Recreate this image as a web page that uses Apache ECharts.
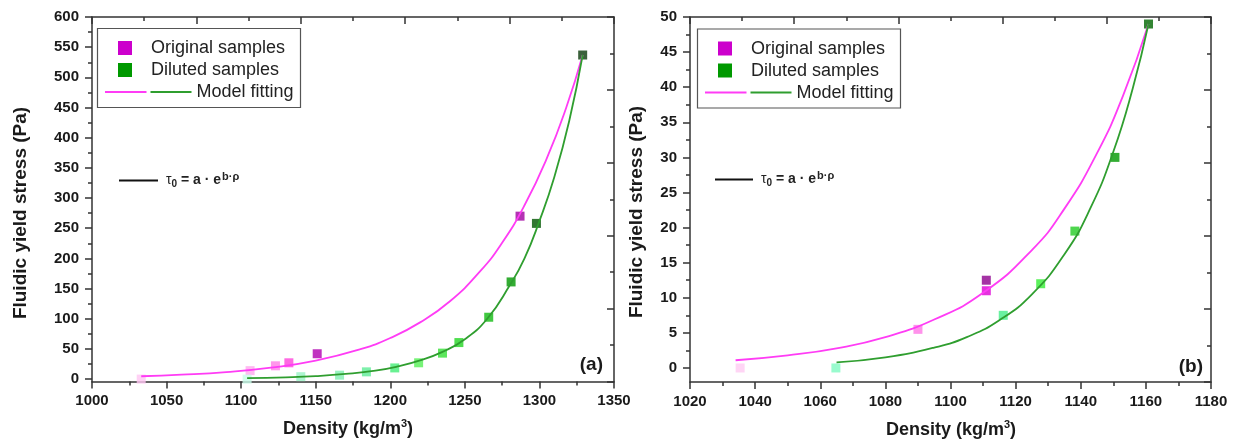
<!DOCTYPE html>
<html>
<head>
<meta charset="utf-8">
<title>Fluidic yield stress vs density</title>
<script src="https://cdn.jsdelivr.net/npm/echarts@6/dist/echarts.min.js"></script>
<style>
  html, body { margin: 0; padding: 0; background: #fff; }
  #chart { width: 1237px; height: 445px; }
</style>
</head>
<body>
<div id="chart"></div>
<script>
// ---- Panel (a) ----
const origDensityA = [1033, 1106, 1123, 1132, 1151, 1287];
const origStressA  = [0, 14, 22, 27, 42, 270];
const dilDensityA  = [1104, 1140, 1166, 1184, 1203, 1219, 1235, 1246, 1266, 1281, 1298, 1329];
const dilStressA   = [0, 4, 6.5, 12, 18.5, 27, 43, 60.5, 102.5, 161, 258, 537];
// model fitting curves
const fitOrigDensityA = [1033, 1060, 1090, 1120, 1150, 1180, 1200, 1220, 1240, 1260, 1275, 1290, 1305, 1318, 1329];
const fitOrigStressA  = [4.7, 7.3, 11.7, 19, 30.6, 49.5, 68, 94, 129, 178, 226, 288, 366, 450, 537];
const fitDilDensityA  = [1104, 1130, 1150, 1170, 1190, 1205, 1220, 1235, 1250, 1265, 1280, 1290, 1300, 1310, 1320, 1329];
const fitDilStressA   = [1.5, 3, 5, 8.5, 14, 21, 31, 45, 66, 100, 155, 200, 262, 335, 428, 537];
const xTicksA = { min: 1000, max: 1350, step: 50 };
const yTicksA = [0, 50, 100, 150, 200, 250, 300, 350, 400, 450, 500, 550, 600];

// ---- Panel (b) ----
const origDensityB = [1035.4, 1090, 1111, 1111];
const origStressB  = [0, 5.5, 11, 12.5];
const dilDensityB  = [1064.8, 1116.2, 1127.7, 1138.2, 1150.5, 1160.8];
const dilStressB   = [0, 7.5, 12, 19.5, 30, 49];
const fitOrigDensityB = [1034, 1050, 1065, 1080, 1095, 1110, 1125, 1135, 1145, 1153, 1160.8];
const fitOrigStressB  = [1.1, 1.8, 2.8, 4.4, 6.9, 10.7, 16.8, 22.7, 30.6, 38.8, 49];
const fitDilDensityB  = [1065, 1080, 1095, 1105, 1115, 1125, 1135, 1143, 1150, 1156, 1160.8];
const fitDilStressB   = [0.8, 1.5, 2.9, 4.4, 6.8, 10.5, 16.2, 22.8, 30.8, 39.9, 49];
const xTicksB = { min: 1020, max: 1180, step: 20 };
const yTicksB = [0, 5, 10, 15, 20, 25, 30, 35, 40, 45, 50];

// per-point marker shades (light for dilute, dark for dense)
const origShadesA = ['#ffc6f2', '#ffa8ee', '#ff7ce6', '#ff44dc', '#b000b0', '#a000a0'];
const dilShadesA  = ['#c8fbe8', '#9af3c6', '#80f0b0', '#5eec96', '#44ee77', '#55f055',
                     '#33e033', '#22d622', '#11bb11', '#009900', '#005500', '#0a3a0a'];
const origShadesB = ['#ffcaf3', '#ff77e6', '#dd00d6', '#8d008d'];
const dilShadesB  = ['#7ffac2', '#44ee88', '#33ee33', '#22cc22', '#009900', '#006600'];

const FONT = "'Liberation Sans', Arial, Helvetica, sans-serif";
const AXIS = '#333333';
const MAGENTA_LINE = '#ff3cf5';
const GREEN_LINE = '#2f9e2f';

const grids = [
  { left: 92, top: 17, width: 522, height: 364.5 },
  { left: 690, top: 17, width: 521, height: 365 }
];

function pairs(xs, ys) { return xs.map((x, i) => [x, ys[i]]); }
function midpoints(t) { const m = []; for (let i = 0; i < t.length - 1; i++) m.push((t[i] + t[i + 1]) / 2); return m; }

const lineStyleAxis = { color: AXIS, width: 1.5 };
const labelStyle = { color: '#1a1a1a', fontFamily: FONT, fontWeight: 'bold', fontSize: 15, formatter: (v) => String(v) };

const xAxes = [], yAxes = [], series = [];

function buildPanel(gi, xt, yTicks, yMin, orig, dil, fitO, fitD, oShades, dShades) {
  const yMax = yTicks[yTicks.length - 1];
  // bottom density axis
  xAxes.push({
    type: 'value', gridIndex: gi, position: 'bottom',
    min: xt.min, max: xt.max, interval: xt.step,
    axisLine: { show: true, onZero: false, lineStyle: lineStyleAxis },
    axisTick: { show: true, inside: false, length: 7, lineStyle: lineStyleAxis },
    minorTick: { show: true, splitNumber: 2, length: 4, lineStyle: lineStyleAxis },
    axisLabel: Object.assign({ margin: 12, showMinLabel: true, showMaxLabel: true }, labelStyle),
    splitLine: { show: false }, minorSplitLine: { show: false }
  });
  // top frame axis
  xAxes.push({
    type: 'value', gridIndex: gi, position: 'top',
    min: 0, max: 10, interval: 2,
    axisLine: { show: true, onZero: false, lineStyle: lineStyleAxis },
    axisTick: { show: true, inside: true, length: 7, lineStyle: lineStyleAxis },
    minorTick: { show: true, splitNumber: 2, length: 4, lineStyle: lineStyleAxis },
    axisLabel: { show: false }, splitLine: { show: false }
  });
  const xMain = xAxes.length - 2;
  // left stress axis (major ticks and labels)
  yAxes.push({
    type: 'value', gridIndex: gi, position: 'left',
    min: yMin, max: yMax,
    axisLine: { show: true, onZero: false, lineStyle: lineStyleAxis },
    axisTick: { show: true, inside: false, length: 7, customValues: yTicks, lineStyle: lineStyleAxis },
    axisLabel: Object.assign({ margin: 13, customValues: yTicks }, labelStyle),
    splitLine: { show: false }
  });
  const yMain = yAxes.length - 1;
  // left stress axis minor ticks
  yAxes.push({
    type: 'value', gridIndex: gi, position: 'left',
    min: yMin, max: yMax,
    axisLine: { show: false },
    axisTick: { show: true, inside: false, length: 4, customValues: midpoints(yTicks), lineStyle: lineStyleAxis },
    axisLabel: { show: false }, splitLine: { show: false }
  });
  // right frame axis
  yAxes.push({
    type: 'value', gridIndex: gi, position: 'right',
    min: 0, max: 10, interval: 2,
    axisLine: { show: true, onZero: false, lineStyle: lineStyleAxis },
    axisTick: { show: true, inside: true, length: 7, lineStyle: lineStyleAxis },
    minorTick: { show: true, splitNumber: 2, length: 4, lineStyle: lineStyleAxis },
    axisLabel: { show: false }, splitLine: { show: false }
  });

  const common = { xAxisIndex: xMain, yAxisIndex: yMain, silent: true, animation: false };
  series.push(Object.assign({
    type: 'line', name: 'Model fitting', data: pairs(fitO[0], fitO[1]),
    showSymbol: false, smooth: 0.5, clip: false,
    lineStyle: { color: MAGENTA_LINE, width: 1.8 }, z: 3
  }, common));
  series.push(Object.assign({
    type: 'line', name: 'Model fitting', data: pairs(fitD[0], fitD[1]),
    showSymbol: false, smooth: 0.5, clip: false,
    lineStyle: { color: GREEN_LINE, width: 1.8 }, z: 3
  }, common));
  series.push(Object.assign({
    type: 'scatter', name: 'Original samples', data: pairs(orig[0], orig[1]),
    symbol: 'rect', symbolSize: 9, clip: false,
    itemStyle: { color: (p) => oShades[p.dataIndex] }, z: 2
  }, common));
  series.push(Object.assign({
    type: 'scatter', name: 'Diluted samples', data: pairs(dil[0], dil[1]),
    symbol: 'rect', symbolSize: 9, clip: false,
    itemStyle: { color: (p) => dShades[p.dataIndex] }, z: 2
  }, common));
}

buildPanel(0, xTicksA, yTicksA, -4,
  [origDensityA, origStressA], [dilDensityA, dilStressA],
  [fitOrigDensityA, fitOrigStressA], [fitDilDensityA, fitDilStressA],
  origShadesA, dilShadesA);
buildPanel(1, xTicksB, yTicksB, -2,
  [origDensityB, origStressB], [dilDensityB, dilStressB],
  [fitOrigDensityB, fitOrigStressB], [fitDilDensityB, fitDilStressB],
  origShadesB, dilShadesB);

// legend box, equation note, panel letter and axis titles
function legendBox(bx, by) {
  const txt = (t, x, y) => ({ type: 'text', x: x, y: y,
    style: { text: t, font: '18px ' + FONT, fill: '#222', verticalAlign: 'middle' } });
  return [
    { type: 'rect', shape: { x: bx, y: by, width: 203, height: 79 },
      style: { fill: '#fff', stroke: '#555', lineWidth: 1.2 }, z: 10 },
    { type: 'rect', shape: { x: bx + 20.5, y: by + 12.5, width: 14, height: 14 }, style: { fill: '#cc00cc' }, z: 11 },
    Object.assign(txt('Original samples', bx + 53.5, by + 20), { z: 11 }),
    { type: 'rect', shape: { x: bx + 20.5, y: by + 34.5, width: 14, height: 14 }, style: { fill: '#009900' }, z: 11 },
    Object.assign(txt('Diluted samples', bx + 53.5, by + 42), { z: 11 }),
    { type: 'line', shape: { x1: bx + 7.5, y1: by + 63.5, x2: bx + 49, y2: by + 63.5 },
      style: { stroke: MAGENTA_LINE, lineWidth: 1.8 }, z: 11 },
    { type: 'line', shape: { x1: bx + 53, y1: by + 63.5, x2: bx + 94, y2: by + 63.5 },
      style: { stroke: GREEN_LINE, lineWidth: 1.8 }, z: 11 },
    Object.assign(txt('Model fitting', bx + 99, by + 64), { z: 11 })
  ];
}

function equationNote(lx1, lx2, y, tx) {
  return [
    { type: 'line', shape: { x1: lx1, y1: y, x2: lx2, y2: y }, style: { stroke: '#111', lineWidth: 1.8 } },
    { type: 'text', x: tx, y: y,
      style: {
        text: '{t|τ}{sub|0}{b| = a · e}{sup|b·ρ}',
        verticalAlign: 'middle',
        rich: {
          t: { font: '14px ' + FONT, fill: '#222' },
          sub: { font: 'bold 10px ' + FONT, fill: '#222', verticalAlign: 'bottom', padding: [6, 0, 0, 0] },
          b: { font: 'bold 14px ' + FONT, fill: '#222' },
          sup: { font: 'bold 11px ' + FONT, fill: '#222', verticalAlign: 'top', padding: [0, 0, 7, 1] }
        }
      } }
  ];
}

function yTitle(x, y) {
  return { type: 'text', x: x, y: y, rotation: Math.PI / 2,
    style: { text: 'Fluidic yield stress (Pa)', font: 'bold 19px ' + FONT, fill: '#1a1a1a',
      align: 'center', verticalAlign: 'middle' } };
}

function xTitle(x, y) {
  return { type: 'text', x: x, y: y,
    style: { text: '{m|Density (kg/m}{s|3}{m|)}', align: 'center', verticalAlign: 'middle',
      rich: {
        m: { font: 'bold 18px ' + FONT, fill: '#1a1a1a' },
        s: { font: 'bold 11px ' + FONT, fill: '#1a1a1a', verticalAlign: 'top', padding: [0, 0, 10, 0] }
      } } };
}

function panelLetter(t, x, y) {
  return { type: 'text', x: x, y: y,
    style: { text: t, font: 'bold 19px ' + FONT, fill: '#1a1a1a', align: 'right', verticalAlign: 'middle' } };
}

const graphics = [].concat(
  legendBox(97.5, 28.5),
  legendBox(697.5, 29),
  equationNote(119, 158, 180.5, 166),
  equationNote(715, 753, 179.5, 761),
  [yTitle(21, 213), yTitle(637, 212),
   xTitle(348, 429), xTitle(951, 430),
   panelLetter('(a)', 603, 365), panelLetter('(b)', 1203, 367)]
);

const chart = echarts.init(document.getElementById('chart'), null, { renderer: 'canvas' });
chart.setOption({
  backgroundColor: '#ffffff',
  animation: false,
  grid: grids.map(g => Object.assign({ containLabel: false, outerBoundsMode: 'none' }, g)),
  xAxis: xAxes,
  yAxis: yAxes,
  series: series,
  graphic: { elements: graphics }
});
</script>
</body>
</html>
